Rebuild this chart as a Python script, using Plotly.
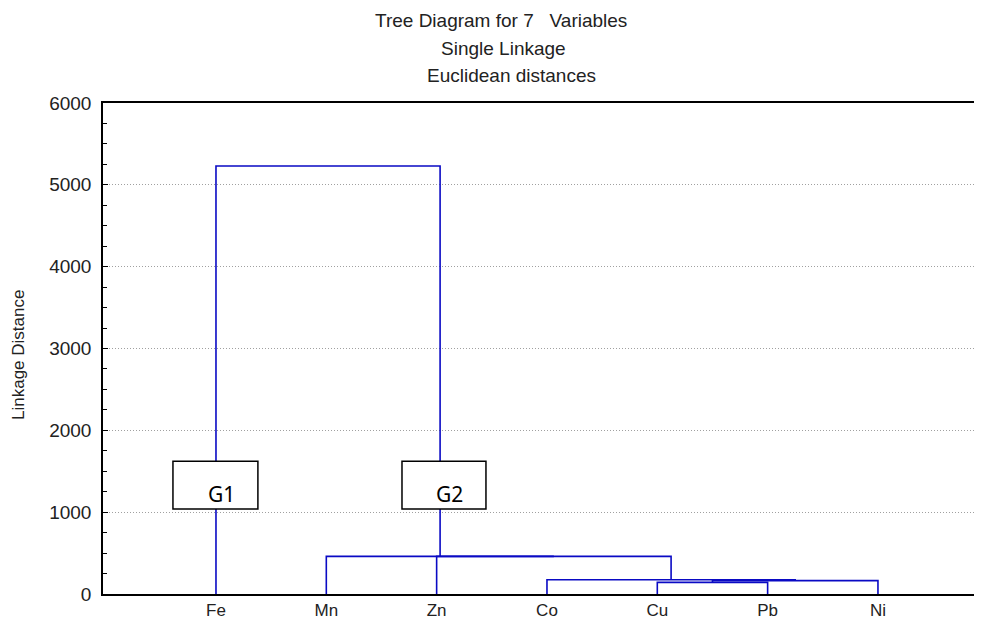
import plotly.graph_objects as go

# ---- data ----
leaf_labels = ["Fe", "Mn", "Zn", "Co", "Cu", "Pb", "Ni"]
# merges: (cluster a, cluster b, linkage distance); new clusters numbered from 7 upwards
merge_a = [4, 7, 3, 2, 1, 0]
merge_b = [5, 6, 8, 9, 10, 11]
merge_h = [142, 163, 175, 460, 460, 5230]
title_lines = ["Tree Diagram for 7   Variables", "Single Linkage", "Euclidean distances"]
y_ticks = [0, 1000, 2000, 3000, 4000, 5000, 6000]
group_labels = ["G1", "G2"]

# ---- build dendrogram paths from the linkage ----
n = len(leaf_labels)
pos = {i: i + 1 for i in range(n)}
height = {i: 0 for i in range(n)}
fig = go.Figure()
LINE = "#0a0ac4"
for k, (a, b, h) in enumerate(zip(merge_a, merge_b, merge_h)):
    xs = [pos[a], pos[a], pos[b], pos[b]]
    ys = [height[a], h, h, height[b]]
    fig.add_trace(go.Scatter(x=xs, y=ys, mode="lines",
                             line=dict(color=LINE, width=1.6),
                             hoverinfo="skip", showlegend=False))
    new = n + k
    pos[new] = (pos[a] + pos[b]) / 2
    height[new] = h

font = "Liberation Sans, Arial, sans-serif"
OFF = 8  # page body margin
W, H = 982 - OFF, 620 - OFF
L, R, T, B = 103 - OFF, 0, 103 - OFF, 26
pw, ph = W - L - R, H - T - B


def px_x(p):  # screen pixel -> paper
    return (p - OFF - L) / pw


def px_y(p):
    return (H - B - (p - OFF)) / ph


fig.update_layout(
    width=W, height=H,
    margin=dict(l=L, r=R, t=T, b=B, autoexpand=False),
    paper_bgcolor="white", plot_bgcolor="white",
    showlegend=False,
    xaxis=dict(range=[-0.024, 7.943], tickvals=list(range(1, n + 1)), ticktext=leaf_labels,
               showgrid=False, zeroline=False, showline=True, linecolor="black", linewidth=1.5,
               mirror=True, ticks="", automargin=False, ticklabelstandoff=0,
               tickfont=dict(family=font, size=17, color="#222")),
    yaxis=dict(range=[0, 6000], tickvals=y_ticks, showgrid=True, gridcolor="#a0a0a0",
               griddash="1px,2px", gridwidth=1, zeroline=False, showline=True, linecolor="black",
               linewidth=1.5, ticks="inside", ticklen=5, tickcolor="black", automargin=False,
               ticklabelstandoff=6,
               minor=dict(dtick=250, ticks="inside", ticklen=4, tickcolor="black", showgrid=False),
               tickfont=dict(family=font, size=19, color="#222")),
)

# title lines
title_x = [501, 503, 511]
title_y = [20, 48, 76]
for t, xx, yy in zip(title_lines, title_x, title_y):
    fig.add_annotation(text=t, xref="paper", yref="paper", x=px_x(xx), y=px_y(yy),
                       xanchor="center", yanchor="middle", showarrow=False,
                       font=dict(family=font, size=19, color="#222"))

# y-axis title
fig.add_annotation(text="Linkage Distance", xref="paper", yref="paper", x=px_x(18), y=px_y(355),
                   xanchor="center", yanchor="middle", textangle=-90, showarrow=False,
                   font=dict(family=font, size=17, color="#222"))

# group boxes
box_x = [(0.61, 1.38), (2.686, 3.447)]
text_x = [1.05, 3.115]
for lab, (x0, x1), tx in zip(group_labels, box_x, text_x):
    fig.add_shape(type="rect", xref="x", yref="y", x0=x0, x1=x1, y0=1040, y1=1621,
                  line=dict(color="black", width=1.5), fillcolor="white", layer="above")
    fig.add_annotation(text=lab, xref="x", yref="y", x=tx, y=1225, showarrow=False,
                       xanchor="center", yanchor="middle",
                       font=dict(family="Noto Sans, sans-serif", size=21, color="black"))

fig.write_html("out.html")
